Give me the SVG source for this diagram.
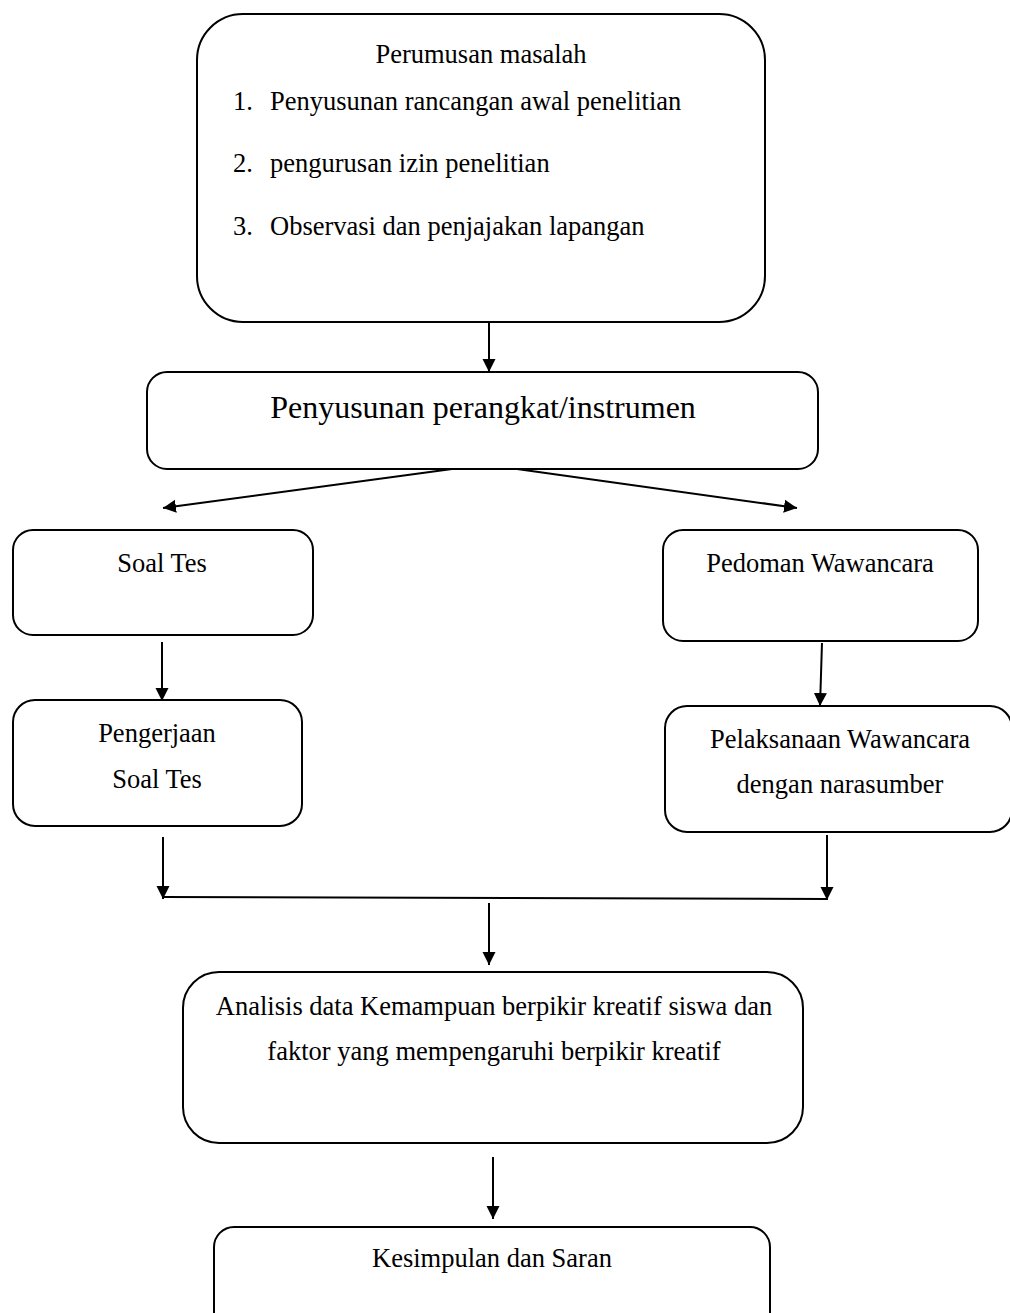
<svg xmlns="http://www.w3.org/2000/svg" width="1010" height="1313" viewBox="0 0 1010 1313">
<defs>
<marker id="ah" markerWidth="13" markerHeight="14" refX="13" refY="6.5" orient="auto" markerUnits="userSpaceOnUse" viewBox="0 0 13 13">
<path d="M0,0 L13,6.5 L0,13 Z" fill="#000"/>
</marker>
</defs>
<style>
.box{fill:#fff;stroke:#000;stroke-width:2}
.t{font-family:"Liberation Serif","Times New Roman",serif;font-size:26.5px;fill:#000;text-anchor:middle}
.tl{font-family:"Liberation Serif","Times New Roman",serif;font-size:26.5px;fill:#000}
.big{font-size:32px}
.c{stroke:#000;stroke-width:2;fill:none}
.ca{stroke:#000;stroke-width:2;fill:none;marker-end:url(#ah)}
</style>
<rect width="1010" height="1313" fill="#fff"/>
<g id="n1">
<rect class="box" x="197" y="14" width="568" height="308" rx="46" ry="46"/>
<text class="t" x="481" y="63">Perumusan masalah</text>
<text class="tl" x="233" y="110">1.</text><text class="tl" x="270" y="110">Penyusunan rancangan awal penelitian</text>
<text class="tl" x="233" y="172">2.</text><text class="tl" x="270" y="172">pengurusan izin penelitian</text>
<text class="tl" x="233" y="235">3.</text><text class="tl" x="270" y="235">Observasi dan penjajakan lapangan</text>
</g>
<g id="n2">
<rect class="box" x="147" y="372" width="671" height="97" rx="20" ry="20"/>
<text class="t big" x="483" y="418">Penyusunan perangkat/instrumen</text>
</g>
<g id="n3">
<rect class="box" x="13" y="530" width="300" height="105" rx="20" ry="20"/>
<text class="t" x="162" y="572">Soal Tes</text>
</g>
<g id="n4">
<rect class="box" x="663" y="530" width="315" height="111" rx="20" ry="20"/>
<text class="t" x="820" y="572">Pedoman Wawancara</text>
</g>
<g id="n5">
<rect class="box" x="13" y="700" width="289" height="126" rx="22" ry="22"/>
<text class="t" x="157" y="742">Pengerjaan</text>
<text class="t" x="157" y="788">Soal Tes</text>
</g>
<g id="n6">
<rect class="box" x="665" y="706" width="347" height="126" rx="22" ry="22"/>
<text class="t" x="840" y="748">Pelaksanaan Wawancara</text>
<text class="t" x="840" y="793">dengan narasumber</text>
</g>
<g id="n7">
<rect class="box" x="183" y="972" width="620" height="171" rx="36" ry="36"/>
<text class="t" x="494" y="1015">Analisis data Kemampuan berpikir kreatif siswa dan</text>
<text class="t" x="494" y="1060">faktor yang mempengaruhi berpikir kreatif</text>
</g>
<g id="n8">
<rect class="box" x="214" y="1227" width="556" height="110" rx="20" ry="20"/>
<text class="t" x="492" y="1267">Kesimpulan dan Saran</text>
</g>
<g id="connectors">
<line class="ca" x1="489" y1="322" x2="489" y2="372"/>
<line class="ca" x1="452" y1="469" x2="163" y2="508"/>
<line class="ca" x1="517" y1="469" x2="797" y2="508"/>
<line class="ca" x1="162" y1="642" x2="162" y2="701"/>
<line class="ca" x1="822" y1="643" x2="820" y2="706"/>
<line class="ca" x1="163" y1="837" x2="163" y2="899"/>
<line class="ca" x1="827" y1="835" x2="827" y2="900"/>
<line class="c" x1="163" y1="897" x2="827" y2="899"/>
<line class="ca" x1="489" y1="903" x2="489" y2="965"/>
<line class="ca" x1="493" y1="1157" x2="493" y2="1219"/>
</g>
</svg>
